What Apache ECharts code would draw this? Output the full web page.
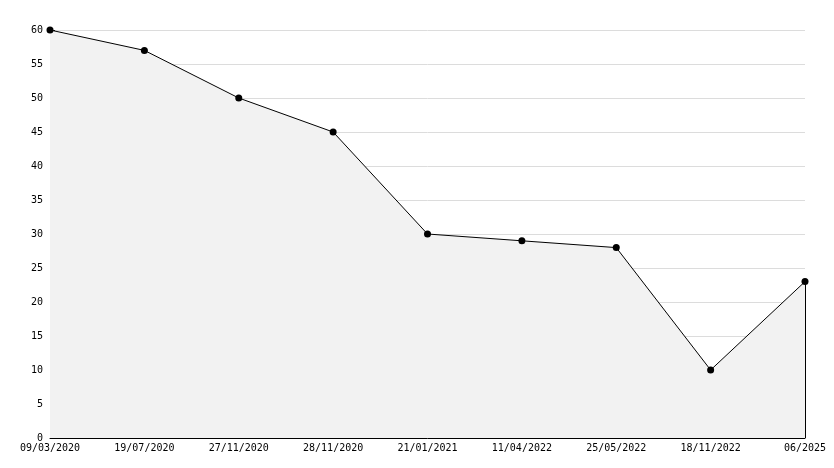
<!DOCTYPE html>
<html><head><meta charset="utf-8">
<script src="https://cdn.jsdelivr.net/npm/echarts@6/dist/echarts.min.js"></script>
<style>html,body{margin:0;padding:0;background:#fff}#c{width:834px;height:468px}</style>
</head><body><div id="c"></div>
<script>
var categories = ['09/03/2020','19/07/2020','27/11/2020','28/11/2020','21/01/2021','11/04/2022','25/05/2022','18/11/2022','06/2025'];
var values = [60, 57, 50, 45, 30, 29, 28, 10, 23];
var chart = echarts.init(document.getElementById('c'), null, {renderer:'canvas'});
var font = {fontFamily:'DejaVu Sans Mono', fontSize:10, color:'#000'};
var lastIdx = categories.length - 1;
chart.setOption({
  animation:false,
  backgroundColor:'#fff',
  grid:{left:50, right:29, top:30, bottom:30},
  xAxis:{
    type:'category', data:categories, boundaryGap:false,
    axisLine:{lineStyle:{color:'#000', width:1}},
    axisTick:{inside:true, length:4, lineStyle:{color:'#000'}},
    axisLabel:Object.assign({margin:5, interval:0}, font),
    splitLine:{show:false}
  },
  yAxis:{
    type:'value', min:0, max:60, interval:5,
    axisLine:{show:true, lineStyle:{color:'#000', width:1}},
    axisTick:{show:true, inside:true, length:5, lineStyle:{color:'#000'}},
    minorTick:{show:true, splitNumber:5, length:3, lineStyle:{color:'#000'}},
    axisLabel:Object.assign({margin:7}, font),
    splitLine:{show:true, lineStyle:{color:'#dcdcdc', width:1}}
  },
  series:[{
    type:'line', data:values,
    lineStyle:{color:'#000', width:1},
    itemStyle:{color:'#000'},
    symbol:'circle', symbolSize:7,
    areaStyle:{color:'#f2f2f2', opacity:1},
    markLine:{
      silent:true, symbol:['none','none'], label:{show:false},
      lineStyle:{color:'#000', width:1, type:'solid'},
      data:[[{coord:[lastIdx, 0]}, {coord:[lastIdx, values[lastIdx]]}]]
    }
  }]
});
</script></body></html>
